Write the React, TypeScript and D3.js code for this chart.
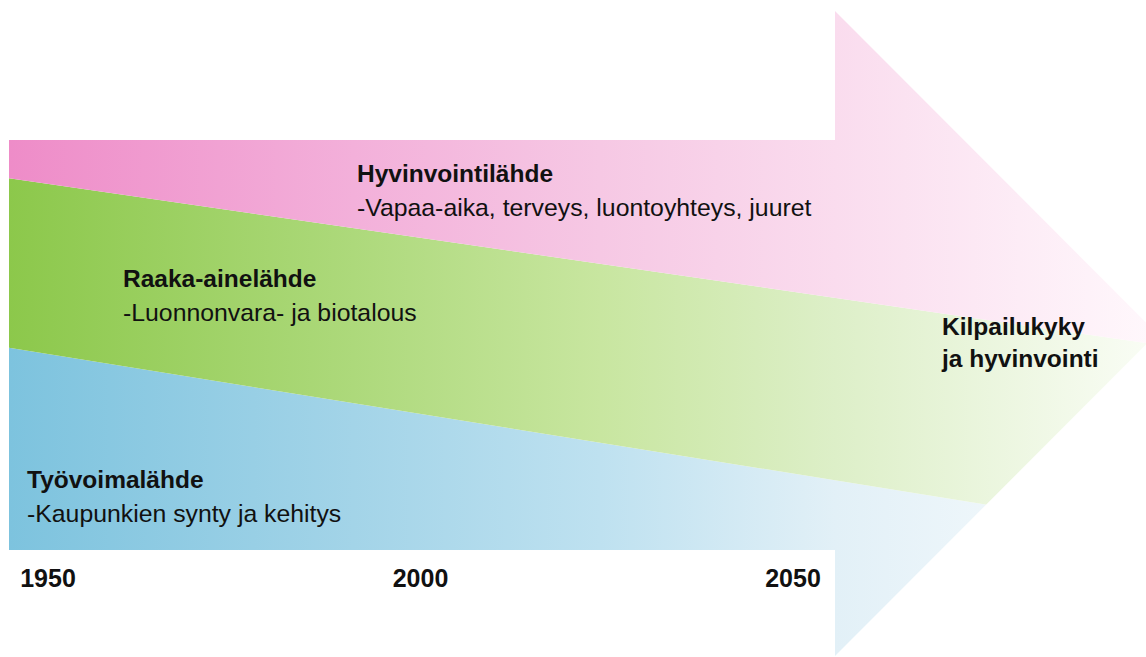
import * as d3 from 'd3'

const years = [1950, 2000, 2050]
const bandTitles = ['Työvoimalähde', 'Raaka-ainelähde', 'Hyvinvointilähde']
const bandNotes = [
  '-Kaupunkien synty ja kehitys',
  '-Luonnonvara- ja biotalous',
  '-Vapaa-aika, terveys, luontoyhteys, juuret',
]
// band edges as share of the shaft height (bottom -> top), at arrow start and at the tip
const edgesStart = [-40, 49.3, 90.7, 150]
const edgesTip = [-40, 4.4, 50.1, 150]
const goalLines = ['Kilpailukyky', 'ja hyvinvointi']

// colours per band, left -> right fade
const palette = [
  ['#7dc3de', '#a3d4e8', '#bee1f0', '#e2f0f7', '#fbfdfe'],
  ['#8cc84b', '#add97b', '#c8e6a0', '#ddefc8', '#fafdf6'],
  ['#ee8cc8', '#f3b0da', '#f6c8e4', '#fadcee', '#fff8fc'],
]
const stopOffsets = [0, 0.3, 0.515, 0.72, 1]

const W = 1146
const H = 657
const x0 = 9
const neck = 835
const tip = 1157
const headTop = 11
const headBottom = 656
const font = '"Liberation Sans", Arial, Helvetica, sans-serif'

export default function App() {
  const y = d3.scaleLinear().domain([0, 100]).range([550, 140])
  const x = d3.scaleLinear().domain([1950, 2050]).range([48, 793])
  const tipY = (headTop + headBottom) / 2

  const line = d3.line<[number, number]>()
  const arrow: [number, number][] = [
    [x0, y(100)],
    [neck, y(100)],
    [neck, headTop],
    [tip, tipY],
    [neck, headBottom],
    [neck, y(0)],
    [x0, y(0)],
  ]

  // each band is the strip between two edges, clipped by the arrow outline
  const bands = bandTitles.map((_, i) => {
    const pts: [number, number][] = [
      [x0, y(edgesStart[i])],
      [tip, y(edgesTip[i])],
      [tip, y(edgesTip[i + 1])],
      [x0, y(edgesStart[i + 1])],
    ]
    return line(pts) + 'Z'
  })

  const titlePos = [
    [27, 488],
    [123, 287],
    [357, 182],
  ]

  return (
    <svg
      width={W}
      height={H}
      style={{ position: 'absolute', left: 0, top: 0, background: '#fff' }}
    >
      <defs>
        <clipPath id='arrow'>
          <path d={line(arrow) + 'Z'} />
        </clipPath>
        {palette.map((cols, i) => (
          <linearGradient
            key={i}
            id={`band${i}`}
            gradientUnits='userSpaceOnUse'
            x1={x0}
            x2={tip}
            y1={0}
            y2={0}
          >
            {cols.map((c, j) => (
              <stop key={j} offset={stopOffsets[j]} stopColor={c} />
            ))}
          </linearGradient>
        ))}
      </defs>

      <g clipPath='url(#arrow)'>
        {bands.map((d, i) => (
          <path key={i} d={d} fill={`url(#band${i})`} />
        ))}
      </g>

      {bandTitles.map((t, i) => (
        <g key={t} fontFamily={font} fill='#111'>
          <text x={titlePos[i][0]} y={titlePos[i][1]} fontSize={24.5} fontWeight='bold'>
            {t}
          </text>
          <text x={titlePos[i][0]} y={titlePos[i][1] + 34} fontSize={24.8}>
            {bandNotes[i]}
          </text>
        </g>
      ))}

      {goalLines.map((t, i) => (
        <text
          key={t}
          x={942}
          y={335 + i * 32}
          fontFamily={font}
          fontSize={24.5}
          fontWeight='bold'
          fill='#111'
        >
          {t}
        </text>
      ))}

      {years.map((yr) => (
        <text
          key={yr}
          x={x(yr)}
          y={587}
          textAnchor='middle'
          fontFamily={font}
          fontSize={25}
          fontWeight='bold'
          fill='#111'
        >
          {yr}
        </text>
      ))}
    </svg>
  )
}
